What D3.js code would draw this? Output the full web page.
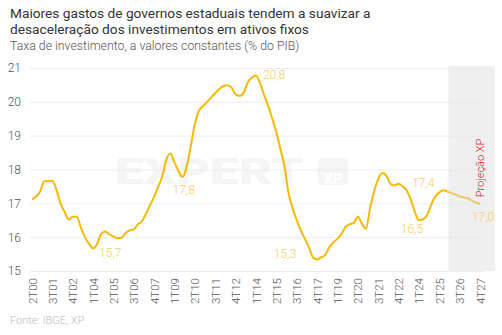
<!DOCTYPE html>
<html>
<head>
<meta charset="utf-8">
<script src="https://cdn.jsdelivr.net/npm/d3@7"></script>
<style>
  body { margin: 0; background: #fff; }
  svg { display: block; font-family: Roboto, "Noto Sans", sans-serif; }
</style>
</head>
<body>
<div id="chart"></div>
<script>
var width = 502, height = 335;

// dados
var firstYear = 2000, firstQuarter = 2;
var values = [
  17.12, 17.2, 17.35, 17.65, 17.65, 17.67, 17.4, 17.0, 16.75, 16.52,
  16.6, 16.6, 16.28, 16.0, 15.8, 15.67, 15.8, 16.1, 16.17, 16.08,
  16.02, 15.97, 15.98, 16.12, 16.2, 16.23, 16.38, 16.47, 16.7, 16.95,
  17.2, 17.5, 17.8, 18.3, 18.47, 18.2, 17.95, 17.78, 18.1, 18.7,
  19.35, 19.74, 19.87, 20.0, 20.13, 20.26, 20.38, 20.47, 20.49, 20.42,
  20.22, 20.18, 20.28, 20.58, 20.72, 20.78, 20.55, 20.2, 19.88, 19.5,
  19.1, 18.6, 18.1, 17.3, 16.85, 16.5, 16.2, 15.95, 15.7, 15.4,
  15.34, 15.4, 15.48, 15.7, 15.85, 15.95, 16.1, 16.3, 16.38, 16.42,
  16.6, 16.4, 16.25, 16.85, 17.35, 17.72, 17.9, 17.82, 17.58, 17.53,
  17.58, 17.5, 17.38, 17.12, 16.75, 16.5, 16.53, 16.65, 16.95, 17.2,
  17.32, 17.39, 17.35, 17.3, 17.26, 17.2, 17.18, 17.15, 17.08, 17.02,
  16.98
];
var projStart = 102; // primeiro trimestre projetado (4T25)
var xTickLabels = ["2T00","3T01","4T02","1T04","2T05","3T06","4T07","1T09","2T10","3T11","4T12",
                   "1T14","2T15","3T16","4T17","1T19","2T20","3T21","4T22","1T24","2T25","3T26","4T27"];
var yTicks = [15, 16, 17, 18, 19, 20, 21];
var annotIdx = [55, 37, 15, 70, 95, 101, 110];
var annotText = ["20,8", "17,8", "15,7", "15,3", "16,5", "17,4", "17,0"];

// categorias: trimestres
var quarters = [];
for (var k = 0; k < values.length; k++) {
  var q = firstQuarter - 1 + k;
  var yy = firstYear + Math.floor(q / 4);
  quarters.push(((q % 4) + 1) + "T" + String(yy % 100).padStart(2, "0"));
}
var data = quarters.map(function(d, i) { return { q: d, v: values[i] }; });

// posicao dos rotulos (dx, dy, anchor)
var annotPos = [
  [7, 4, "start"], [1, 17, "middle"], [6, 9, "start"], [-21, -1, "end"],
  [-7, 13, "middle"], [-9, -3, "end"], [3, 17, "middle"]
];

var svg = d3.select("#chart").append("svg")
  .attr("width", width).attr("height", height);

var x = d3.scalePoint().domain(quarters).range([32, 480]);
var y = d3.scaleLinear().domain([15, 21]).range([271, 68]);

// titulo
svg.append("text").attr("x", 10).attr("y", 18)
  .attr("font-size", 13.7).attr("fill", "#333")
  .text("Maiores gastos de governos estaduais tendem a suavizar a");
svg.append("text").attr("x", 10).attr("y", 33.5)
  .attr("font-size", 13.7).attr("fill", "#333")
  .text("desaceleração dos investimentos em ativos fixos");
svg.append("text").attr("x", 10).attr("y", 50)
  .attr("font-size", 12.3).attr("font-weight", 300).attr("fill", "#555")
  .text("Taxa de investimento, a valores constantes (% do PIB)");

// marca d'agua
var wm = svg.append("g");
wm.append("text").attr("x", 115).attr("y", 184)
  .attr("font-size", 36).attr("font-weight", 900).attr("fill", "#f5f5f5")
  .attr("textLength", 188).attr("lengthAdjust", "spacingAndGlyphs")
  .text("EXPERT");
wm.append("rect").attr("x", 318).attr("y", 158).attr("width", 30).attr("height", 27)
  .attr("rx", 4).attr("fill", "#f5f5f5");
wm.append("text").attr("x", 333).attr("y", 184).attr("text-anchor", "middle")
  .attr("font-size", 14).attr("font-weight", 900).attr("fill", "#fff").text("XP");

// area de projecao
svg.append("rect")
  .attr("x", x(quarters[projStart]) + 1).attr("y", 66)
  .attr("width", 495 - x(quarters[projStart]) - 1).attr("height", 205)
  .attr("fill", "#efefef");

// grade
var grid = d3.axisRight(y).tickValues(yTicks).tickSize(455).tickFormat("");
svg.append("g").attr("transform", "translate(30,0)").call(grid)
  .call(function(g) {
    g.select(".domain").remove();
    g.selectAll(".tick line").attr("stroke", "#e8e8e8").attr("stroke-opacity", 0.8);
  });

// eixo y
svg.append("g").attr("transform", "translate(21,0)")
  .call(d3.axisLeft(y).tickValues(yTicks).tickSize(0).tickPadding(0).tickFormat(d3.format("d")))
  .call(function(g) {
    g.select(".domain").remove();
    g.selectAll("text").attr("font-size", 12).attr("fill", "#555")
      .attr("font-family", "Roboto, sans-serif").attr("font-weight", 300);
  });

// eixo x
svg.append("g").attr("transform", "translate(0,271)")
  .call(d3.axisBottom(x).tickValues(xTickLabels).tickSize(0).tickPadding(0))
  .call(function(g) {
    g.select(".domain").remove();
    g.selectAll("text")
      .attr("font-size", 11.5).attr("fill", "#555")
      .attr("font-family", "Roboto, sans-serif").attr("font-weight", 300)
      .attr("transform", "rotate(-90)")
      .attr("text-anchor", "end").attr("dy", "0.35em")
      .attr("x", -7).attr("y", 0);
  });

// linhas
var line = d3.line()
  .x(function(d) { return x(d.q); })
  .y(function(d) { return y(d.v); })
  .curve(d3.curveMonotoneX);

svg.append("path").datum(data.slice(0, projStart + 1))
  .attr("fill", "none").attr("stroke", "#f8b900").attr("stroke-width", 2)
  .attr("d", line);
svg.append("path").datum(data.slice(projStart))
  .attr("fill", "none").attr("stroke", "#ebc865").attr("stroke-width", 2)
  .attr("d", line);

// rotulos
annotIdx.forEach(function(i, n) {
  svg.append("text")
    .attr("x", x(quarters[i]) + annotPos[n][0])
    .attr("y", y(values[i]) + annotPos[n][1])
    .attr("text-anchor", annotPos[n][2])
    .attr("font-size", 12).attr("font-weight", 300).attr("fill", "#f7cd62")
    .text(annotText[n]);
});

// texto projecao
svg.append("text")
  .attr("transform", "translate(484,168) rotate(-90)")
  .attr("text-anchor", "middle")
  .attr("font-size", 11).attr("font-weight", 300).attr("fill", "#e8141b")
  .text("Projeção XP");

// fonte
svg.append("text").attr("x", 10).attr("y", 324)
  .attr("font-size", 11).attr("font-weight", 300).attr("fill", "#bbb")
  .text("Fonte: IBGE, XP");
</script>
</body>
</html>
